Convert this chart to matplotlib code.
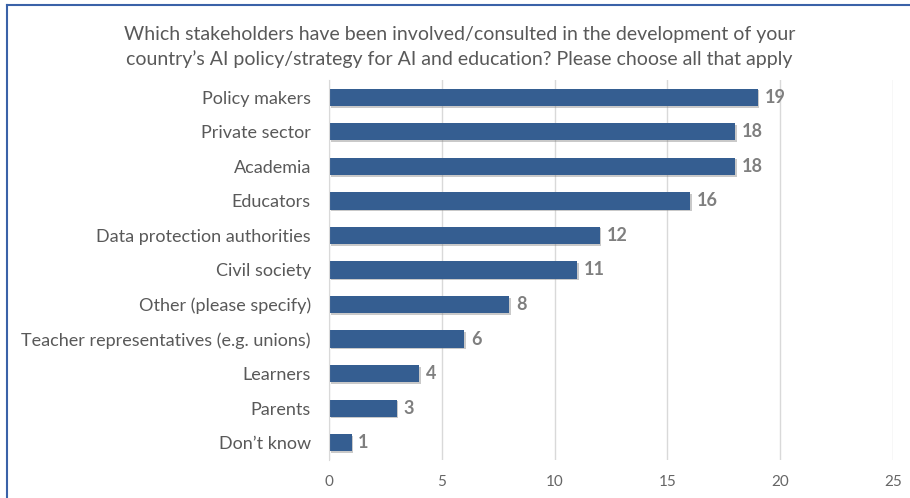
import matplotlib.pyplot as plt
import matplotlib.patheffects as pe
from matplotlib.lines import Line2D

plt.rcParams['font.family'] = ['Lato', 'DejaVu Sans']

categories = ['Policy makers', 'Private sector', 'Academia', 'Educators',
              'Data protection authorities', 'Civil society',
              'Other (please specify)', 'Teacher representatives (e.g. unions)',
              'Learners', 'Parents', 'Don\u2019t know']
counts = [19, 18, 18, 16, 12, 11, 8, 6, 4, 3, 1]
xticks = [0, 5, 10, 15, 20, 25]

title = ('Which stakeholders have been involved/consulted in the development of your\n'
         'country\u2019s AI policy/strategy for AI and education? Please choose all that apply')

bar_color = '#355E91'
text_color = '#595959'
value_color = '#7F7F7F'

fig = plt.figure(figsize=(9.1, 4.98), dpi=100)
ax = fig.add_axes([0.3615, 0.0763, 0.6198, 0.7631])

ypos = list(range(len(categories)))
bars = ax.barh(ypos, counts, height=0.5, color=bar_color, zorder=3)
for b in bars:
    b.set_path_effects([pe.SimplePatchShadow(offset=(1.2, -1.2), shadow_rgbFace='#7a7a7a', alpha=0.4),
                        pe.Normal()])

for y, v in zip(ypos, counts):
    ax.text(v + 0.3, y, str(v), va='center', ha='left', fontsize=13,
            fontweight='bold', color=value_color)

ax.set_ylim(len(categories) - 0.5, -0.5)
ax.set_xlim(0, 25)
ax.set_xticks(xticks)
ax.set_yticks(ypos)
ax.set_yticklabels(categories, fontsize=13, color=text_color)
ax.tick_params(axis='x', length=0, pad=11, labelsize=11, labelcolor='#666666')
ax.tick_params(axis='y', length=0, pad=13)
ax.grid(axis='x', color='#D9D9D9', linewidth=1, zorder=0)
for s in ['top', 'right', 'bottom']:
    ax.spines[s].set_visible(False)
ax.spines['left'].set_color('#D9D9D9')
ax.spines['left'].set_zorder(4)

fig.text(0.505, 0.906, title, ha='center', va='center', fontsize=14,
         color=text_color, linespacing=1.5)

# frame around the chart area
fig.add_artist(Line2D([0.0077, 0.0077], [0, 0.99], transform=fig.transFigure,
                      color='#3A62A8', linewidth=1.5))
fig.add_artist(Line2D([0.0077, 1.0], [0.99, 0.99], transform=fig.transFigure,
                      color='#3A62A8', linewidth=1.5))

fig.savefig('out.png', dpi=100)
